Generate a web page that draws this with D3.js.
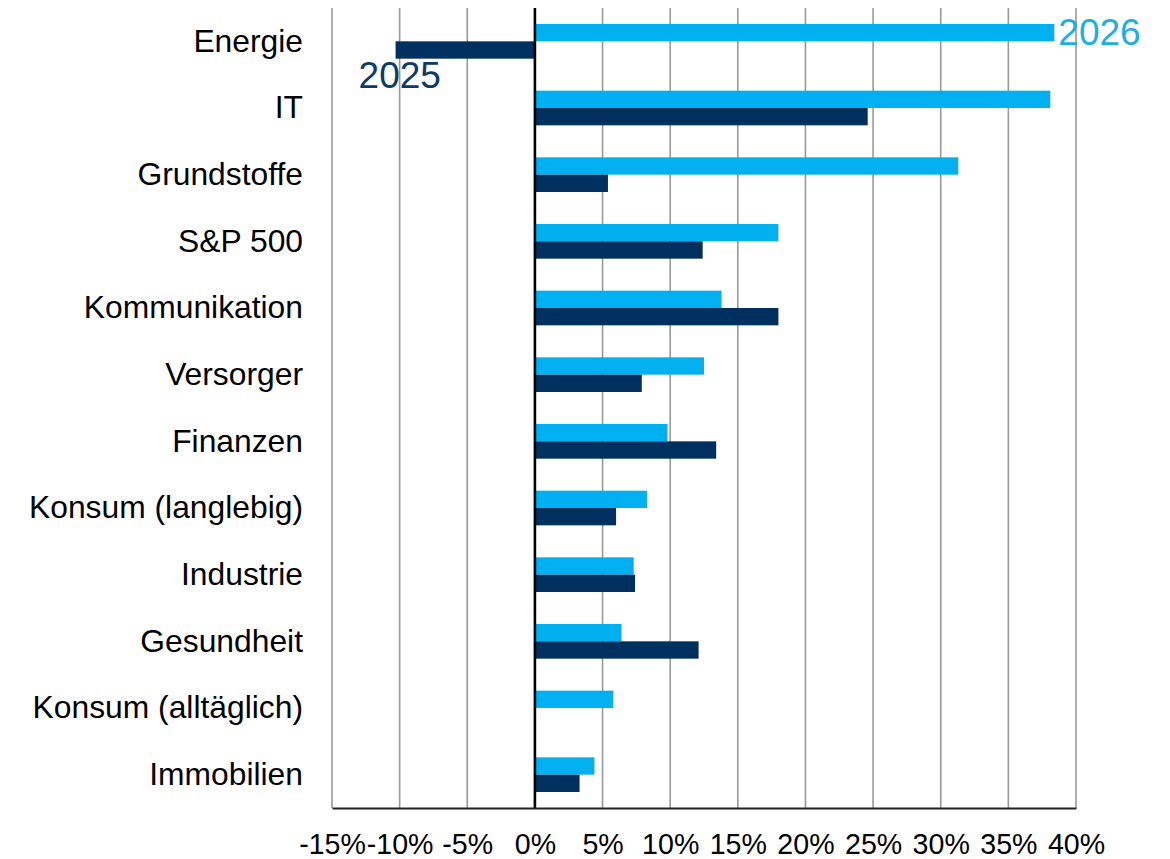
<!DOCTYPE html>
<html><head><meta charset="utf-8">
<script src="https://cdn.jsdelivr.net/npm/d3@7"></script>
<style>body{margin:0;background:#fff}svg{display:block}text{font-family:"Liberation Sans",Arial,sans-serif}</style>
</head><body>
<svg id="c" width="1170" height="859"></svg>
<script>
const categories = ["Energie","IT","Grundstoffe","S&P 500","Kommunikation","Versorger","Finanzen","Konsum (langlebig)","Industrie","Gesundheit","Konsum (alltäglich)","Immobilien"];
const values2026 = [38.4, 38.1, 31.3, 18.0, 13.8, 12.5, 9.8, 8.3, 7.3, 6.4, 5.8, 4.4];
const values2025 = [-10.3, 24.6, 5.4, 12.4, 18.0, 7.9, 13.4, 6.0, 7.4, 12.1, 0, 3.3];
const tickValues = [-15,-10,-5,0,5,10,15,20,25,30,35,40];
const seriesNames = ["2026","2025"];

const svg = d3.select("#c");
const x = d3.scaleLinear().domain([-15,40]).range([332,1076]);
const y = d3.scaleBand().domain(categories).range([8,808]).paddingInner(0.48).paddingOuter(0.24);
const sub = d3.scaleBand().domain(seriesNames).range([0,y.bandwidth()]);
const colors = {"2026":"#00B0F0","2025":"#003060"};

// grid lines
svg.append("g").selectAll("line").data(tickValues.filter(d=>d!==0)).join("line")
  .attr("x1",d=>x(d)).attr("x2",d=>x(d)).attr("y1",8).attr("y2",808)
  .attr("stroke","#999").attr("stroke-width",1.6);

// bars
const rows = categories.map((c,i)=>({c, v26:values2026[i], v25:values2025[i]}));
const g = svg.append("g");
g.selectAll("rect.a").data(rows).join("rect").attr("class","a")
  .attr("x",d=>x(Math.min(0,d.v26))).attr("width",d=>Math.abs(x(d.v26)-x(0)))
  .attr("y",d=>y(d.c)+sub("2026")).attr("height",sub.bandwidth()).attr("fill",colors["2026"]);
g.selectAll("rect.b").data(rows.filter(d=>d.v25!==0)).join("rect").attr("class","b")
  .attr("x",d=>x(Math.min(0,d.v25))).attr("width",d=>Math.abs(x(d.v25)-x(0)))
  .attr("y",d=>y(d.c)+sub("2025")).attr("height",sub.bandwidth()).attr("fill",colors["2025"]);

// zero line
svg.append("line").attr("x1",x(0)).attr("x2",x(0)).attr("y1",8).attr("y2",808)
  .attr("stroke","#000").attr("stroke-width",2.6);

// bottom axis
const xAxis = d3.axisBottom(x).tickValues(tickValues).tickSize(0).tickPadding(26).tickFormat(d=>d+"%");
const ax = svg.append("g").attr("transform","translate(0,808)").call(xAxis);
ax.select(".domain").attr("stroke","#222").attr("stroke-width",2);
ax.selectAll("text").attr("font-size",28.6).attr("fill","#000");

// category labels
const yAxis = d3.axisLeft(y).tickSize(0).tickPadding(29);
const ay = svg.append("g").attr("transform","translate(332,0)").call(yAxis);
ay.select(".domain").remove();
ay.selectAll("text").attr("font-size",31.8).attr("fill","#000");

// series labels
svg.append("text").attr("x",x(values2026[0])+4).attr("y",45)
  .attr("font-size",37).attr("fill","#1AB0E2").text(seriesNames[0]);
svg.append("text").attr("x",x(values2025[0])-37).attr("y",88)
  .attr("font-size",37).attr("fill","#0B3A6B").text(seriesNames[1]);
</script>
</body></html>
